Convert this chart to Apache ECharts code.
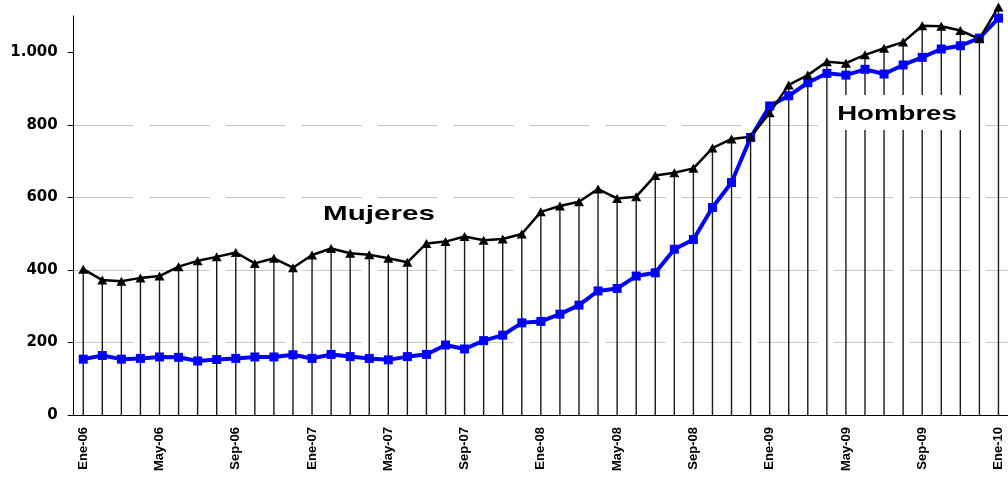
<!DOCTYPE html>
<html>
<head>
<meta charset="utf-8">
<script src="https://cdn.jsdelivr.net/npm/echarts@6/dist/echarts.min.js"></script>
<style>
	html, body { margin: 0; padding: 0; background: #fff; }
	#chart { width: 1008px; height: 478px; }
</style>
</head>
<body>
<div id="chart"></div>
<script>
	// meses, Ene-06 .. Ene-10
	var meses = [
		'Ene-06', 'Feb-06', 'Mar-06', 'Abr-06', 'May-06', 'Jun-06', 'Jul-06', 'Ago-06', 'Sep-06', 'Oct-06', 'Nov-06', 'Dic-06',
		'Ene-07', 'Feb-07', 'Mar-07', 'Abr-07', 'May-07', 'Jun-07', 'Jul-07', 'Ago-07', 'Sep-07', 'Oct-07', 'Nov-07', 'Dic-07',
		'Ene-08', 'Feb-08', 'Mar-08', 'Abr-08', 'May-08', 'Jun-08', 'Jul-08', 'Ago-08', 'Sep-08', 'Oct-08', 'Nov-08', 'Dic-08',
		'Ene-09', 'Feb-09', 'Mar-09', 'Abr-09', 'May-09', 'Jun-09', 'Jul-09', 'Ago-09', 'Sep-09', 'Oct-09', 'Nov-09', 'Dic-09',
		'Ene-10'
	];
	var mujeres = [
		402, 372, 369, 378, 383, 409, 425, 436, 448, 418, 432, 406,
		441, 459, 446, 442, 432, 421, 473, 478, 492, 482, 485, 499,
		560, 576, 588, 623, 597, 602, 660, 668, 680, 736, 761, 767,
		833, 910, 937, 974, 970, 993, 1011, 1028, 1073, 1072, 1060, 1037,
		1125
	];
	var hombres = [
		154, 164, 154, 156, 160, 159, 149, 153, 156, 160, 160, 166,
		156, 167, 161, 156, 152, 161, 167, 193, 182, 205, 220, 254,
		258, 278, 303, 342, 349, 383, 392, 457, 484, 572, 641, 765,
		852, 880, 916, 942, 937, 953, 940, 965, 986, 1009, 1018, 1039,
		1094
	];
	var yTicks = [0, 200, 400, 600, 800, 1000];

	// lineas de caida: desde el valor mayor hasta 0
	var caida = mujeres.map(function (v, i) { return Math.max(v, hombres[i]); });

	var myChart = echarts.init(document.getElementById('chart'));
	myChart.setOption({
		animation: false,
		grid: { left: 73.7, right: -5, top: 16, bottom: 63 },
		xAxis: [{
			type: 'category',
			data: meses,
			axisLine: { lineStyle: { color: '#000', width: 1 } },
			axisTick: { interval: 0, length: 4, lineStyle: { color: '#000' } },
			axisLabel: {
				interval: 3,
				rotate: 90,
				margin: 12,
				color: '#000',
				fontFamily: 'Liberation Sans',
				fontWeight: 'bold',
				fontSize: 13
			},
			splitLine: { show: false }
		}, {
			// marcas largas cada 4 meses
			type: 'category',
			data: meses,
			position: 'bottom',
			axisLine: { show: false },
			axisTick: { interval: 3, length: 9, lineStyle: { color: '#000' } },
			axisLabel: { show: false },
			splitLine: { show: false }
		}],
		yAxis: {
			type: 'value',
			min: 0,
			max: 1100,
			interval: 200,
			axisLine: { show: true, lineStyle: { color: '#000', width: 1 } },
			axisTick: { show: true, length: 6, customValues: yTicks, lineStyle: { color: '#000' } },
			axisLabel: {
				customValues: yTicks,
				margin: 16,
				color: '#000',
				fontFamily: 'DejaVu Sans',
				fontWeight: 'bold',
				fontSize: 15,
				formatter: function (v) {
					return String(v).replace(/\B(?=(\d{3})+(?!\d))/g, '.');
				}
			},
			splitLine: {
				show: true,
				showMinLine: false,
				showMaxLine: false,
				lineStyle: { color: '#c8c8c8', width: 1, type: [60, 16] }
			}
		},
		series: [{
			name: 'caida',
			type: 'bar',
			data: caida,
			barWidth: 1.4,
			clip: false,
			itemStyle: { color: '#1a1a1a' },
			silent: true
		}, {
			name: 'Hombres',
			type: 'line',
			data: hombres,
			symbol: 'rect',
			symbolSize: 9,
			clip: false,
			itemStyle: { color: '#0000ff' },
			lineStyle: { color: '#0000ff', width: 4 }
		}, {
			name: 'Mujeres',
			type: 'line',
			data: mujeres,
			symbol: 'triangle',
			symbolSize: [10, 9],
			clip: false,
			itemStyle: { color: '#000' },
			lineStyle: { color: '#000', width: 2.5 }
		}],
		graphic: [{
			type: 'text',
			x: 379,
			y: 214,
			scaleX: 1.41,
			z: 100,
			style: {
				text: 'Mujeres',
				font: 'bold 21px "Liberation Sans"',
				fill: '#000',
				textAlign: 'center',
				textVerticalAlign: 'middle'
			}
		}, {
			type: 'rect',
			z: 99,
			shape: { x: 830, y: 95, width: 146, height: 35 },
			style: { fill: '#fff' }
		}, {
			type: 'text',
			x: 897,
			y: 114,
			scaleX: 1.38,
			z: 100,
			style: {
				text: 'Hombres',
				font: 'bold 20px "Liberation Sans"',
				fill: '#000',
				textAlign: 'center',
				textVerticalAlign: 'middle'
			}
		}]
	});
</script>
</body>
</html>
